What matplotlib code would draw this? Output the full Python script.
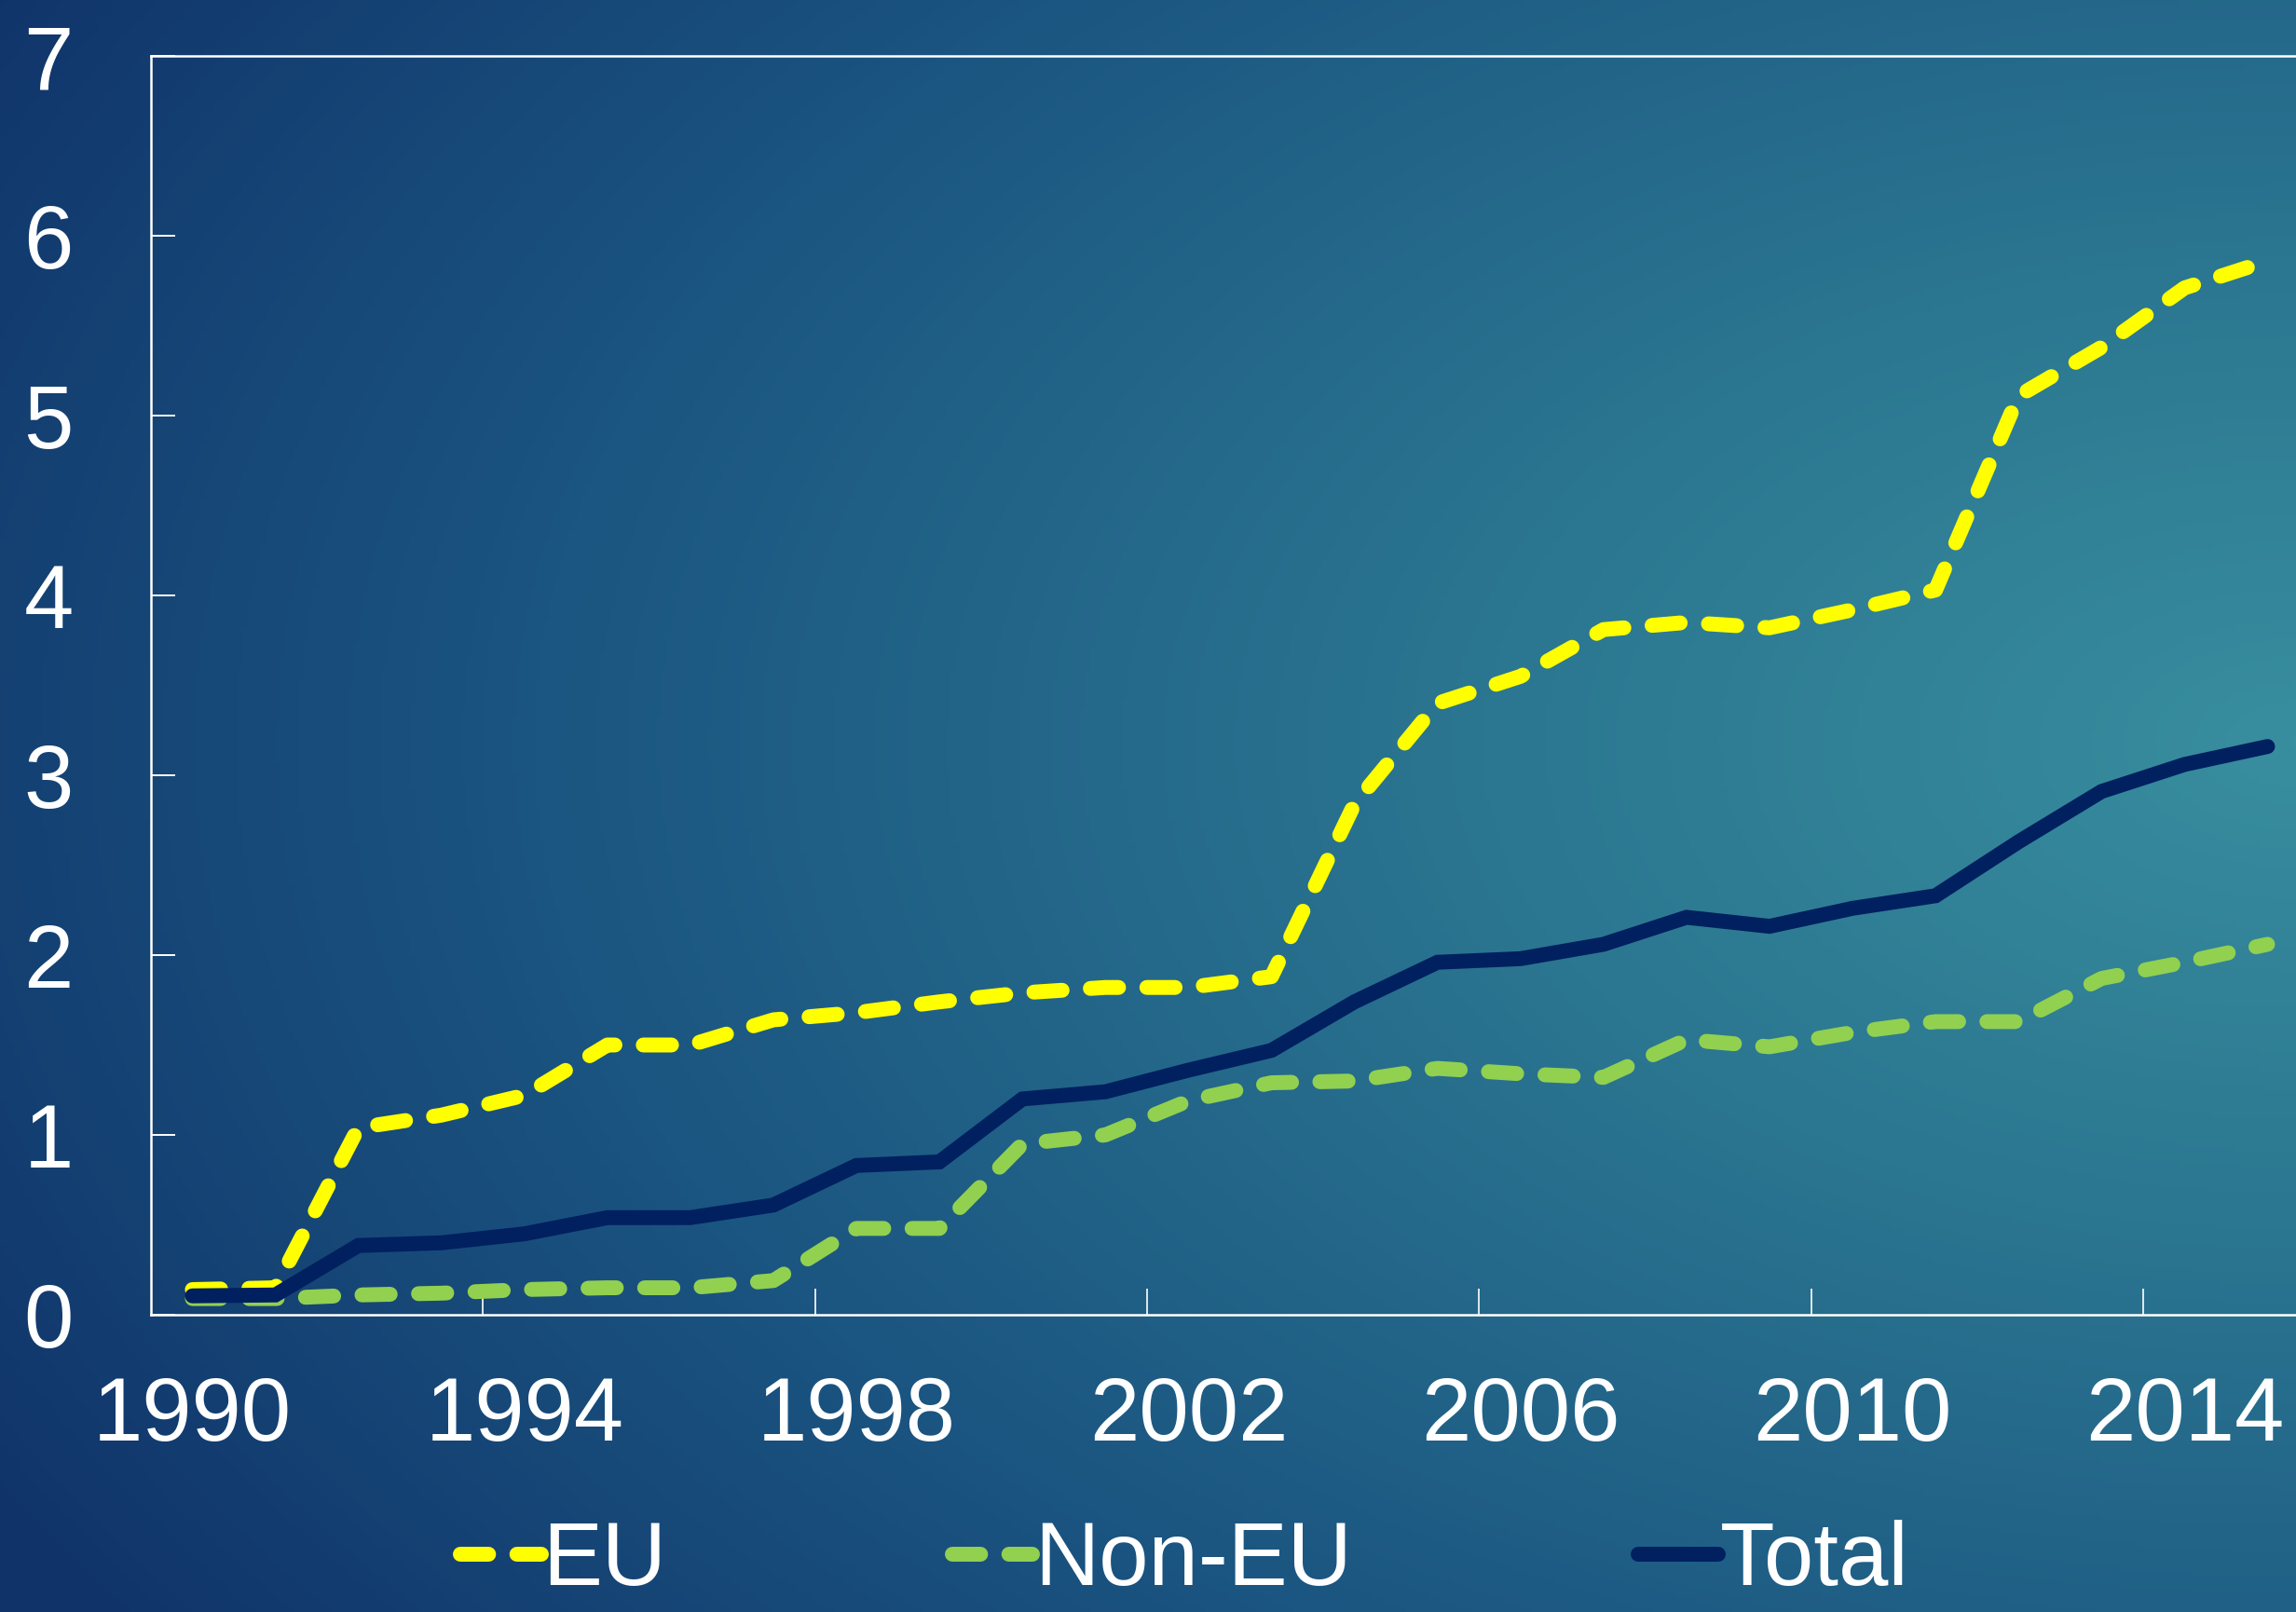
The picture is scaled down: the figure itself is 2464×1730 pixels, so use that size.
import matplotlib
matplotlib.use("Agg")
import matplotlib.pyplot as plt
from matplotlib.colors import LinearSegmentedColormap
import numpy as np

plt.rcParams['font.family'] = ['Liberation Sans', 'DejaVu Sans']

years = list(range(1990, 2016))
eu = [0.14, 0.15, 1.04, 1.11, 1.22, 1.50, 1.50, 1.64, 1.68, 1.74,
      1.79, 1.82, 1.82, 1.88, 2.84, 3.40, 3.55, 3.81, 3.85, 3.82,
      3.92, 4.03, 5.11, 5.38, 5.71, 5.86]
non_eu = [0.09, 0.09, 0.11, 0.12, 0.14, 0.15, 0.15, 0.19, 0.48, 0.48,
          0.95, 1.00, 1.19, 1.29, 1.30, 1.37, 1.34, 1.32, 1.53, 1.49,
          1.57, 1.63, 1.63, 1.87, 1.96, 2.06]
total = [0.105, 0.11, 0.385, 0.40, 0.45, 0.54, 0.54, 0.61, 0.83, 0.85,
         1.20, 1.24, 1.36, 1.47, 1.74, 1.96, 1.98, 2.06, 2.21, 2.16,
         2.26, 2.33, 2.63, 2.91, 3.06, 3.16]
label_years = [1990, 1994, 1998, 2002, 2006, 2010, 2014]
sep_ticks = [1993.5, 1997.5, 2001.5, 2005.5, 2009.5, 2013.5]

fig = plt.figure(figsize=(24.64, 17.30), dpi=100)

# background gradient (teal on the right fading to navy on the left)
bg = fig.add_axes([0, 0, 1, 1], zorder=-1)
h, w = 346, 493
yy, xx = np.mgrid[0:h, 0:w]
dx = (xx - w) / w
dy = (yy - 0.46 * h) / (0.85 * h)
t = np.clip(np.sqrt(dx ** 2 + dy ** 2) / 1.15, 0, 1)
cmap = LinearSegmentedColormap.from_list('bg', ['#388e9e', '#2a7490', '#1b5581', '#10346a'])
bg.imshow(t, cmap=cmap, aspect='auto', extent=[0, 1, 0, 1], vmin=0, vmax=1)
bg.axis('off')

ax = fig.add_axes([0.0657, 0.1844, 0.94, 0.7809])
ax.set_facecolor('none')

lw = 11.5
ax.plot(years, eu, color='#FFFF00', lw=lw, linestyle=(0, (1.9, 1.9)),
        dash_capstyle='round', solid_joinstyle='round', label='EU', zorder=3)
ax.plot(years, non_eu, color='#92D050', lw=lw, linestyle=(0, (1.9, 1.9)),
        dash_capstyle='round', solid_joinstyle='round', label='Non-EU', zorder=2)
ax.plot(years, total, color='#002060', lw=lw, solid_capstyle='round',
        solid_joinstyle='miter', label='Total', zorder=4)

ax.set_xlim(1989.5, 2015.5)
ax.set_ylim(0, 7)

for s in ['top', 'left', 'bottom']:
    ax.spines[s].set_color('white')
    ax.spines[s].set_linewidth(1.8)
ax.spines['right'].set_visible(False)

ax.set_yticks(range(0, 8))
ax.tick_params(axis='y', direction='in', length=19, width=1.4, color='white',
               labelcolor='white', labelsize=69, pad=60)
ax.set_xticks(label_years)
ax.set_xticks(sep_ticks, minor=True)
ax.tick_params(axis='x', which='major', length=0, labelcolor='white',
               labelsize=69, pad=47)
ax.tick_params(axis='x', which='minor', direction='in', length=20, width=1.2,
               color='white')

leg = fig.legend(loc='center', bbox_to_anchor=(0.516, 0.031), ncol=3,
                 frameon=False, fontsize=69, handlelength=0.9,
                 handletextpad=0.02, columnspacing=3.2, borderpad=0,
                 borderaxespad=0)
for txt in leg.get_texts():
    txt.set_color('white')

fig.savefig('out.png', dpi=100)
